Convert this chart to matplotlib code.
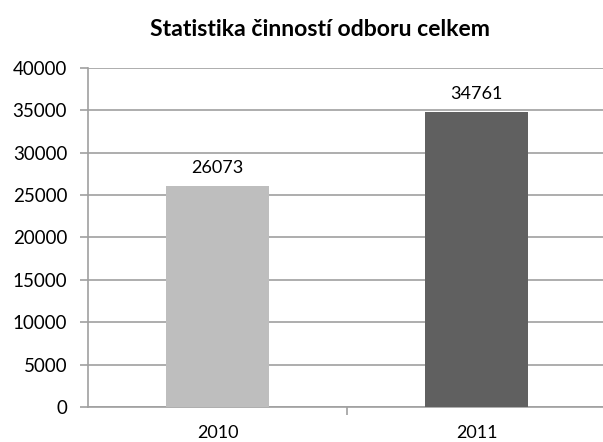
import matplotlib
matplotlib.use("Agg")
import matplotlib.pyplot as plt

categories = ["2010", "2011"]
values = [26073, 34761]
colors = ["#BEBEBE", "#606060"]
yticks = [0, 5000, 10000, 15000, 20000, 25000, 30000, 35000, 40000]
title = "Statistika činností odboru celkem"

plt.rcParams['font.family'] = ['Lato', 'DejaVu Sans']

fig = plt.figure(figsize=(6.03, 4.42), dpi=100)
ax = fig.add_axes([88/603, 35/442, (603-88)/603, (407-68)/442])

x = list(range(len(categories)))
bars = ax.bar(x, values, width=0.40, color=colors, zorder=3)
for xi, v in zip(x, values):
    ax.text(xi, v + 1200, str(v), ha='center', va='bottom', fontsize=13, color='#000000')

ax.set_ylim(0, 40000)
ax.set_xlim(-0.5, -0.5 + 515/259)
ax.set_yticks(yticks)
ax.set_yticklabels([str(t) for t in yticks], fontsize=13.5)
ax.yaxis.grid(True, color='#A0A0A0', linewidth=1.2, zorder=0)
ax.set_axisbelow(True)

ax.set_xticks(x)
ax.set_xticklabels(categories, fontsize=13)
ax.tick_params(axis='x', length=0, pad=13)
ax.tick_params(axis='y', length=6, width=1.2, color='#A0A0A0', pad=9)
ax.set_xticks([0.5], minor=True)
ax.tick_params(axis='x', which='minor', length=6, width=1.2, color='#A0A0A0', direction='out')

for s in ['top', 'right']:
    ax.spines[s].set_visible(False)
for s in ['left', 'bottom']:
    ax.spines[s].set_color('#A0A0A0')
    ax.spines[s].set_linewidth(1.2)

fig.text(320/603, 1 - 30/442, title, ha='center', va='center', fontsize=16.6, fontweight='bold')

fig.savefig("out.png", dpi=100)
